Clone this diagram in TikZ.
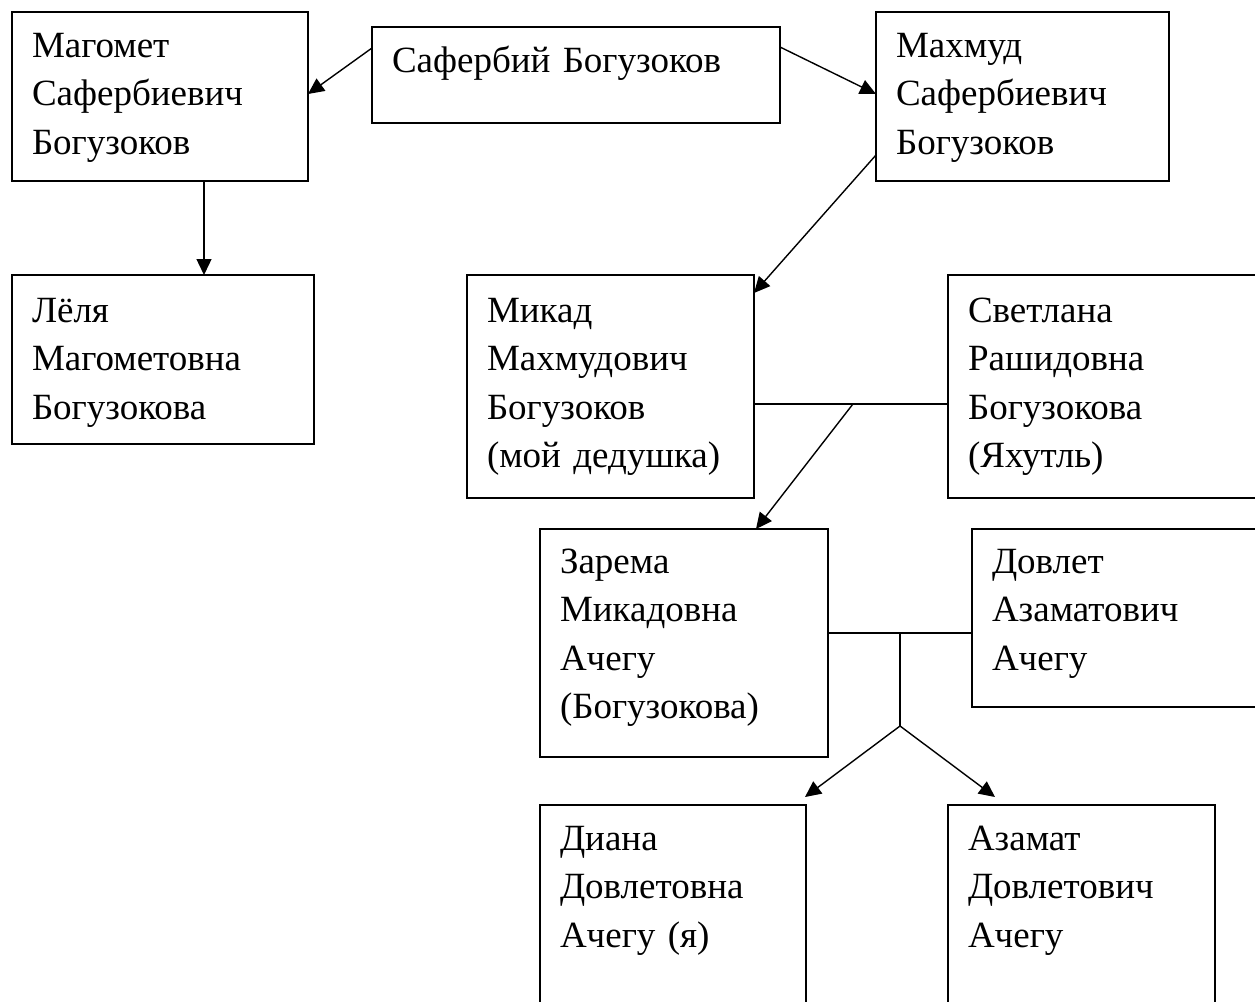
\documentclass[tikz,border=0pt]{standalone}
\usepackage{fontspec}
\setmainfont{Liberation Serif}
\usetikzlibrary{arrows.meta,calc}
\tikzset{
  box/.style={draw, line width=1.6pt, rectangle, anchor=north west, outer sep=0pt,
    inner xsep=20pt, inner ysep=0pt,
    font=\fontsize{37}{48.5}\selectfont},
  conn/.style={line width=1.4pt},
  arr/.style={conn, -{Triangle[length=16pt,width=15pt]}}
}
\begin{document}
\begin{tikzpicture}[x=1pt,y=-1pt]
\useasboundingbox (0,0) rectangle (1255,1001);
\fill[white] (0,0) rectangle (1255,1001);
\clip (0,0) rectangle (1255,1001);

\node[box, text width=256pt, text height=45pt, text depth=124pt] (A) at (12,12)
  {Магомет\\Сафербиевич\\Богузоков};
\node[box, text width=368pt, text height=45pt, text depth=51pt] (B) at (372,27)
  {Сафербий Богузоков};
\node[box, text width=253pt, text height=45pt, text depth=124pt] (C) at (876,12)
  {Махмуд\\Сафербиевич\\Богузоков};
\node[box, text width=262pt, text height=47pt, text depth=122pt] (D) at (12,275)
  {Лёля\\Магометовна\\Богузокова};
\node[box, text width=247pt, text height=47pt, text depth=176pt] (E) at (467,275)
  {Микад\\Махмудович\\Богузоков\\(мой дедушка)};
\node[box, text width=287pt, text height=47pt, text depth=176pt] (F) at (948,275)
  {Светлана\\Рашидовна\\Богузокова\\(Яхутль)};
\node[box, text width=248pt, text height=44pt, text depth=184pt] (G) at (540,529)
  {Зарема\\Микадовна\\Ачегу\\(Богузокова)};
\node[box, text width=263pt, text height=44pt, text depth=134pt] (H) at (972,529)
  {Довлет\\Азаматович\\Ачегу};
\node[box, text width=226pt, text height=45pt, text depth=170pt] (I) at (540,805)
  {Диана\\Довлетовна\\Ачегу (я)};
\node[box, text width=227pt, text height=45pt, text depth=170pt] (J) at (948,805)
  {Азамат\\Довлетович\\Ачегу};

% Safer -> sons
\draw[arr] ([yshift=-21pt]B.north west) -- ([yshift=-82pt]A.north east);
\draw[arr] ([yshift=-20pt]B.north east) -- ([yshift=-82pt]C.north west);
% Magomet -> Lelya
\draw[arr] ([xshift=192pt]A.south west) -- ([xshift=192pt]D.north west);
% Makhmud -> Mikad
\draw[arr] ([yshift=-143pt]C.north west) -- ([yshift=-18pt]E.north east);
% Mikad + Svetlana
\coordinate (e1) at ([yshift=-129pt]E.north east);
\coordinate (f1) at ([yshift=-129pt]F.north west);
\draw[conn] (e1) -- (f1);
\coordinate (m1) at ($(e1)!0.51!(f1)$);
\draw[arr] (m1) -- ([xshift=216pt]G.north west);
% Zarema + Dovlet
\coordinate (g1) at ([yshift=-104pt]G.north east);
\coordinate (h1) at ([yshift=-104pt]H.north west);
\draw[conn] (g1) -- (h1);
\coordinate (m2) at ($(g1)!0.5!(h1)$);
\coordinate (c2) at ([yshift=-93pt]m2);
\draw[conn] (m2) -- (c2);
\draw[arr] (c2) -- ([shift={(-1pt,8pt)}]I.north east);
\draw[arr] (c2) -- ([shift={(47pt,8pt)}]J.north west);
\end{tikzpicture}
\end{document}
